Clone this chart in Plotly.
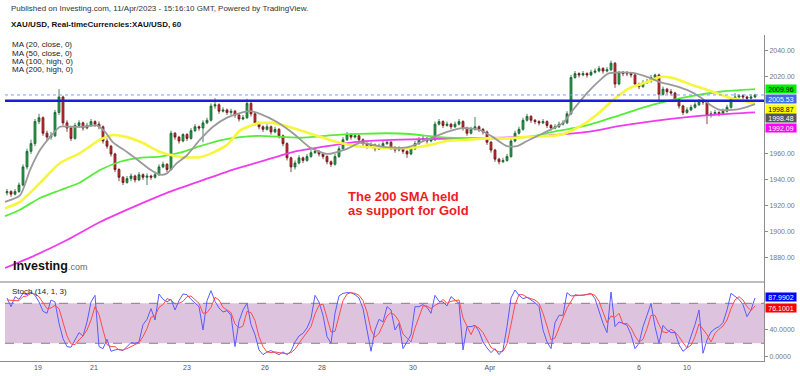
import plotly.graph_objects as go

W, H = 800, 376

# ---------------- data ----------------
first_open = 1930
closes = [
    1931, 1929, 1931, 1936, 1950, 1962, 1968, 1985, 1988, 1976,
    1973, 1974, 1992, 2004, 1984, 1980, 1972, 1982, 1984, 1980,
    1982, 1985, 1983, 1981, 1970, 1966, 1960, 1948, 1942, 1938,
    1941, 1943, 1940, 1944, 1942, 1943, 1942, 1944, 1950, 1952,
    1948, 1976, 1973, 1970, 1975, 1972, 1978, 1981, 1980, 1984,
    1986, 1997, 1998, 1993, 1994, 1992, 1993, 1990, 1987, 1988,
    1999, 1991, 1984, 1981, 1979, 1981, 1977, 1979, 1974, 1968,
    1957, 1950, 1953, 1957, 1955, 1958, 1961, 1962, 1960, 1958,
    1954, 1952, 1958, 1964, 1971, 1975, 1973, 1974, 1971, 1968,
    1966, 1967, 1964, 1966, 1968, 1969, 1965, 1963, 1964, 1962,
    1960, 1964, 1968, 1971, 1972, 1970, 1971, 1983, 1985, 1982,
    1983, 1981, 1983, 1985, 1980, 1976, 1979, 1981, 1979, 1977,
    1969, 1963, 1956, 1954, 1955, 1958, 1970, 1976, 1979, 1986,
    1989, 1986, 1985, 1984, 1985, 1982, 1980, 1981, 1983, 1984,
    1991, 2019, 2022, 2021, 2022, 2021, 2023, 2024, 2026, 2024,
    2025, 2030, 2014, 2023, 2022, 2022, 2021, 2014, 2012, 2015,
    2016, 2019, 2021, 2006, 2010, 2008, 2007, 2002, 1997, 1992,
    1994, 1996, 1998, 2001, 2000, 1990, 1991, 1992, 1991, 1993,
    1996, 2002, 2004, 2005, 2004, 2003, 2004, 2005.53]
highs = [
    1933, 1932, 1933, 1938, 1952, 1964, 1971, 1987, 1991, 1989,
    1978, 1977, 1994, 2010, 2005, 1986, 1981, 1984, 1986, 1985,
    1984, 1987, 1986, 1985, 1982, 1972, 1967, 1961, 1949, 1943,
    1943, 1945, 1944, 1946, 1945, 1945, 1944, 1946, 1952, 1954,
    1953, 1978, 1977, 1974, 1976, 1976, 1980, 1983, 1982, 1986,
    1988, 1999, 2003, 1999, 1996, 1995, 1995, 1994, 1991, 1990,
    2002.5, 2000, 1992, 1985, 1982, 1983, 1982, 1981, 1980, 1975,
    1969, 1958, 1955, 1959, 1958, 1960, 1963, 1964, 1963, 1961,
    1959, 1955, 1960, 1966, 1973, 1977, 1976, 1976, 1975, 1972,
    1969, 1969, 1968, 1968, 1970, 1971, 1970, 1966, 1966, 1965,
    1963, 1966, 1970, 1973, 1974, 1973, 1973, 1985, 1987, 1986,
    1985, 1984, 1985, 1987, 1986, 1981, 1981, 1988.5, 1982, 1980,
    1978, 1970, 1964, 1957, 1957, 1960, 1972, 1978, 1981, 1988,
    1991, 1990, 1987, 1986, 1987, 1986, 1983, 1983, 1985, 1986,
    1993, 2021, 2024, 2023, 2024, 2023, 2025, 2026, 2028, 2027,
    2027, 2032, 2031, 2024, 2024, 2024, 2023, 2022, 2015, 2017,
    2018, 2021, 2022, 2022, 2012, 2011, 2010, 2008, 2003, 1998,
    1996, 1998, 2000, 2002.5, 2002, 2001, 1993, 1994, 1993, 1995,
    1998, 2004, 2007, 2006, 2006, 2005, 2006, 2006.5]
lows = [
    1928, 1927, 1928, 1930, 1935, 1948, 1960, 1966, 1983, 1974,
    1970, 1971, 1973, 1990, 1982, 1977, 1970, 1971, 1980, 1978,
    1979, 1981, 1981, 1979, 1968, 1964, 1958, 1946, 1939, 1936,
    1937, 1939, 1938, 1939, 1940, 1936, 1940, 1941, 1943, 1949,
    1946, 1947, 1971, 1968, 1969, 1970, 1971, 1977, 1978, 1969,
    1983, 1985, 1995, 1991, 1992, 1990, 1990, 1988, 1985, 1986,
    1987, 1989, 1982, 1979, 1977, 1978, 1975, 1976, 1972, 1966,
    1955, 1946, 1948, 1952, 1953, 1954, 1957, 1960, 1958, 1956,
    1952, 1950, 1951, 1957, 1963, 1970, 1971, 1972, 1969, 1966,
    1964, 1965, 1962, 1963, 1965, 1967, 1963, 1961, 1962, 1960,
    1957, 1959, 1963, 1967, 1970, 1968, 1969, 1970, 1982, 1980,
    1981, 1979, 1980, 1982, 1978, 1974, 1975, 1978, 1977, 1975,
    1967, 1961, 1954, 1952, 1953, 1954, 1957, 1969, 1975, 1978,
    1985, 1984, 1983, 1982, 1983, 1980, 1978, 1979, 1980, 1982,
    1983, 1990, 2018, 2019, 2020, 2019, 2020, 2022, 2023, 2022,
    2023, 2024, 2011, 2013, 2020, 2020, 2019, 2012, 2010, 2011,
    2014, 2015, 2018, 2001.5, 2005, 2006, 2005, 2000, 1995, 1990,
    1991, 1993, 1995, 1997, 1998, 1983, 1988, 1990, 1989, 1990,
    1992, 1995, 2001, 2003, 2002, 2001, 2002, 2003]
bars = list(range(len(closes)))
opens = [first_open] + closes[:-1]

day_tick_bars = [7.75, 21.75, 45, 64.5, 78.75, 101.5, 120.75, 135.5, 158, 170]
day_tick_labels = ["19", "21", "23", "26", "28", "30", "Apr", "4", "6", "10"]

price_ticks = [1880, 1900, 1920, 1940, 1960, 2020, 2040]

# moving averages (sampled along the bar axis)
ma20_x = [-0.5, 3.25, 5.75, 8.25, 10.75, 13.25, 15.75, 19, 22.5, 24.5, 26.5, 30, 33.25, 35.75,
          38.25, 40, 42.5, 45, 48.25, 51.5, 55, 58.25, 60.75, 63.25, 67.5, 71.5, 75.75, 80, 85,
          88.25, 94, 100, 105, 110, 114, 118.25, 121.5, 125, 127.5, 130, 134, 139, 141.5, 145,
          148.25, 150.25, 153.25, 156.5, 160, 163.25, 166.5, 170, 173.25, 175.75, 178.25, 181.5,
          184, 187]
ma20_y = [1923, 1928, 1947.6, 1963, 1973, 1981, 1981, 1981, 1982, 1977, 1969, 1961.5, 1954, 1948,
          1944, 1945, 1953, 1959, 1971, 1981, 1988, 1991.6, 1993, 1991, 1984.7, 1976, 1965, 1960,
          1964, 1968.5, 1965.5, 1965, 1971, 1977, 1980, 1978.5, 1973, 1966, 1966, 1970, 1976,
          1984, 1994, 2007, 2017, 2022, 2023, 2022.5, 2019.5, 2015.5, 2013, 2009.4, 2004, 1998,
          1994, 1994, 1995.4, 1998.48]

ma50_x = [-0.5, 3.25, 8.25, 13.25, 18.25, 23.25, 26.5, 30, 34, 38.25, 43.25, 48.25, 51.5, 55,
          58.25, 62.5, 66.5, 71.5, 76.5, 81.5, 87.5, 92.5, 96.5, 100.75, 105, 110, 115, 120, 125,
          129, 133.25, 138.25, 141.5, 145, 148.25, 151.5, 155.75, 160, 163.25, 166.5, 171.5,
          176.5, 180, 183.25, 187]
ma50_y = [1918, 1923, 1937.6, 1953, 1960.7, 1971, 1974.6, 1973, 1968.5, 1961.5, 1957.7, 1957.5,
          1961, 1967, 1978, 1983.5, 1984, 1980, 1975, 1970, 1966, 1965, 1964.5, 1964.5, 1966.5,
          1970, 1971, 1972, 1972, 1973, 1973.5, 1974.6, 1978.5, 1984.7, 1992.4, 2001.6, 2011,
          2015.5, 2019.4, 2018.6, 2013, 2008, 2004, 2001.6, 1998.87]

ma100_x = [-0.5, 3.25, 8.25, 13.25, 18.25, 23.25, 28.25, 33.25, 38.25, 43.25, 48.25, 53.25,
           58.25, 63.25, 73.25, 81.5, 88.25, 95, 100.75, 108.25, 116.5, 123.25, 130, 136.5, 145,
           153.25, 161.5, 170, 178.25, 187]
ma100_y = [1912, 1917, 1926, 1932, 1938, 1947.6, 1954, 1957, 1958, 1961, 1966, 1970.5, 1973,
           1974, 1972.5, 1974.6, 1975.5, 1976, 1975.4, 1973, 1972, 1972, 1973, 1977, 1982, 1990,
           1998, 2004, 2008, 2009.96]

ma200_x = [-0.5, 5.75, 15, 23.25, 31.5, 40, 48.25, 56.5, 63.25, 71.5, 80, 88.25, 98.25, 113.25,
           128.25, 136.5, 145, 153.25, 161.5, 170, 178.25, 187]
ma200_y = [1872, 1880, 1893.6, 1907.5, 1919, 1930, 1939, 1948, 1954, 1961.5, 1966, 1969.5, 1971,
           1972, 1973, 1974.5, 1977, 1981.6, 1985.4, 1988.5, 1990.6, 1992.09]

stoch_k = [
    88, 75, 90, 86, 95, 93, 97, 92, 82, 68, 65, 85, 82, 50, 27, 15, 14, 25, 36, 31,
    52, 82, 92, 15, 12, 26, 8, 10, 11, 9, 15, 21, 20, 22, 48, 56, 72, 55, 94, 86,
    82, 86, 70, 84, 94, 93, 86, 80, 75, 40, 84, 99, 83, 73, 67, 69, 62, 15, 53, 70,
    80, 48, 33, 10, 3, 7, 9, 6, 3, 7, 3, 8, 22, 31, 35, 43, 57, 92, 82, 62,
    30, 20, 65, 91, 95, 96, 96, 93, 88, 72, 40, 8, 40, 56, 52, 75, 70, 40, 50, 12,
    22, 33, 75, 75, 78, 74, 65, 92, 83, 82, 76, 90, 85, 80, 10, 45, 45, 47, 38, 22,
    13, 6, 12, 3, 10, 45, 88, 100, 92, 87, 89, 85, 81, 75, 40, 22, 12, 51, 62, 62,
    96, 91, 92, 92, 92, 94, 95, 87, 67, 50, 36, 97, 45, 52, 50, 47, 33, 12, 20, 45,
    62, 80, 45, 20, 47, 40, 36, 36, 18, 8, 13, 30, 48, 70, 5, 25, 37, 42, 45, 51,
    70, 95, 90, 86, 78, 60, 70, 87.9902]
stoch_d = [
    85, 84, 84, 84, 90, 91, 95, 94, 90, 81, 72, 73, 77, 72, 53, 31, 19, 18, 25, 31,
    40, 55, 75, 63, 40, 18, 15, 15, 10, 10, 12, 15, 19, 21, 30, 42, 59, 61, 74, 78,
    87, 85, 79, 80, 83, 90, 91, 86, 80, 65, 66, 74, 89, 85, 74, 70, 66, 49, 43, 46,
    68, 66, 54, 30, 15, 7, 6, 7, 6, 5, 4, 6, 11, 20, 29, 36, 45, 64, 77, 79,
    58, 37, 38, 59, 84, 94, 96, 95, 92, 84, 67, 40, 29, 35, 49, 61, 66, 62, 53, 34,
    28, 22, 43, 61, 76, 76, 72, 77, 80, 86, 80, 83, 84, 85, 58, 45, 33, 46, 43, 36,
    24, 14, 10, 7, 8, 19, 48, 78, 93, 93, 89, 87, 85, 80, 65, 46, 25, 28, 42, 58,
    73, 83, 93, 92, 92, 93, 94, 92, 83, 68, 51, 61, 59, 65, 49, 50, 43, 31, 22, 26,
    42, 62, 62, 48, 37, 36, 41, 37, 30, 21, 13, 17, 30, 49, 41, 33, 22, 35, 41, 46,
    55, 72, 85, 90, 85, 75, 69, 76.1001]
stoch_levels = [20, 80]
stoch_ticks = [0, 40]

support_level = 2001.1
last_price = 2005.53

# ---------------- geometry helpers ----------------
XR = 764 / W


def py(p):
    return 1 - p / H


X_RANGE = [-1.75, 189.25]
FONT = "Liberation Sans, Arial, sans-serif"

fig = go.Figure()

fig.add_trace(go.Candlestick(
    x=bars, open=opens, high=highs, low=lows, close=closes,
    increasing=dict(line=dict(color="#17652d", width=0.8), fillcolor="#24a046"),
    decreasing=dict(line=dict(color="#6e1616", width=0.8), fillcolor="#cf2d2d"),
    whiskerwidth=0, xaxis="x", yaxis="y", showlegend=False, hoverinfo="skip"))

for xs, ys, col, wd in [(ma200_x, ma200_y, "#ee3cee", 1.8),
                        (ma100_x, ma100_y, "#58ec3a", 1.8),
                        (ma50_x, ma50_y, "#f6f63c", 2.6),
                        (ma20_x, ma20_y, "#9a9a9a", 1.8)]:
    fig.add_trace(go.Scatter(x=xs, y=ys, mode="lines", line=dict(color=col, width=wd, shape="spline", smoothing=0.6),
                             xaxis="x", yaxis="y", showlegend=False, hoverinfo="skip"))

fig.add_trace(go.Scatter(x=[-0.5, X_RANGE[1]], y=[last_price, last_price], mode="lines",
                         line=dict(color="#7f9dff", width=1, dash="dot"),
                         xaxis="x", yaxis="y", showlegend=False, hoverinfo="skip"))
fig.add_trace(go.Scatter(x=[-0.5, X_RANGE[1]], y=[support_level, support_level], mode="lines",
                         line=dict(color="#1c1ce0", width=2.6),
                         xaxis="x", yaxis="y", showlegend=False, hoverinfo="skip"))

# stochastic
fig.add_trace(go.Scatter(x=bars, y=stoch_k, mode="lines", line=dict(color="#5a5aff", width=1),
                         xaxis="x", yaxis="y2", showlegend=False, hoverinfo="skip"))
fig.add_trace(go.Scatter(x=bars, y=stoch_d, mode="lines", line=dict(color="#ff4a4a", width=1),
                         xaxis="x", yaxis="y2", showlegend=False, hoverinfo="skip"))

shapes = [
    dict(type="rect", xref="x", yref="y2", x0=-0.5, x1=X_RANGE[1], y0=stoch_levels[0], y1=stoch_levels[1],
         fillcolor="#dec3df", line=dict(width=0), layer="below"),
]
for lv in stoch_levels:
    shapes.append(dict(type="line", xref="x", yref="y2", x0=-0.5, x1=X_RANGE[1], y0=lv, y1=lv,
                       line=dict(color="#8a7a8a", width=1, dash="dash"), layer="below"))
shapes.append(dict(type="line", xref="paper", yref="paper", x0=0, x1=XR, y0=py(282), y1=py(282),
                   line=dict(color="#a8a8a8", width=1.5)))

annotations = []


def txt(x, y, text, size=8, color="#222", bold=False, xanchor="left", **kw):
    annotations.append(dict(xref="paper", yref="paper", x=x / W, y=py(y), text=("<b>%s</b>" % text) if bold else text,
                            showarrow=False, xanchor=xanchor, yanchor="middle",
                            font=dict(family=FONT, size=size, color=color), **kw))


txt(9, 8, "Published on Investing.com, 11/Apr/2023 - 15:16:10 GMT, Powered by TradingView.", size=8, color="#333")
txt(9, 25, "XAU/USD, Real-timeCurrencies:XAU/USD, 60", size=8, color="#111", bold=True)
for i, t in enumerate(["MA (20, close, 0)", "MA (50, close, 0)", "MA (100, high, 0)", "MA (200, high, 0)"]):
    txt(10, 45 + 8 * i, t, size=8, color="#222")
txt(10, 291, "Stoch (14, 1, 3)", size=8, color="#222")
txt(11, 266, "<b>Investing</b><span style='font-size:9px;color:#666'>.com</span>", size=12.5, color="#111")
txt(346, 196.5, "The 200 SMA held", size=13, color="#ee1c24", bold=True)
txt(346, 210.5, "as support for Gold", size=13, color="#ee1c24", bold=True)

# value labels on the right axis
price_labels = [
    (ma100_y[-1], "#00ee00", "#000", 89.5),
    (last_price, "#4169e1", "#fff", 99),
    (ma50_y[-1], "#ffff00", "#000", 108.5),
    (ma20_y[-1], "#555555", "#fff", 118),
    (ma200_y[-1], "#ff00ff", "#fff", 127.5),
    (stoch_k[-1], "#0000ff", "#fff", 297),
    (stoch_d[-1], "#ff0000", "#fff", 308),
]
for k, (val, bg, fg, ypix) in enumerate(price_labels):
    s = ("%.2f" % val) if k < 5 else ("%.4f" % val)
    annotations.append(dict(xref="paper", yref="paper", x=765 / W, y=py(ypix), text=s, showarrow=False,
                            xanchor="left", yanchor="middle", bgcolor=bg, borderpad=0, width=30, height=8,
                            align="center", font=dict(family=FONT, size=7, color=fg)))

axis_common = dict(showgrid=False, zeroline=False, showline=True, linecolor="#8c8c8c", linewidth=1,
                   fixedrange=True)

fig.update_layout(
    width=W, height=H, margin=dict(l=0, r=0, t=0, b=0),
    paper_bgcolor="white", plot_bgcolor="white", showlegend=False,
    font=dict(family=FONT),
    xaxis=dict(domain=[0, XR], range=X_RANGE, anchor="y2", tickmode="array", tickvals=day_tick_bars,
               ticktext=day_tick_labels, ticks="", tickfont=dict(size=7, color="#555", family=FONT),
               rangeslider=dict(visible=False), **axis_common),
    yaxis=dict(domain=[py(282), py(35)], range=[1861.2, 2051.8], side="right", anchor="x",
               tickmode="array", tickvals=price_ticks, tickformat=".2f", ticks="outside", ticklen=3,
               tickcolor="#8c8c8c", tickfont=dict(size=7, color="#777", family=FONT), **axis_common),
    yaxis2=dict(domain=[py(361), py(282)], range=[-6.6, 112], side="right", anchor="x",
                tickmode="array", tickvals=stoch_ticks, tickformat=".4f", ticks="outside", ticklen=3,
                tickcolor="#8c8c8c", tickfont=dict(size=7, color="#777", family=FONT), **axis_common),
    shapes=shapes, annotations=annotations,
)

fig.write_html("out.html", config={"displayModeBar": False},
               post_script="document.body.style.margin='0';document.body.style.overflow='hidden';")
